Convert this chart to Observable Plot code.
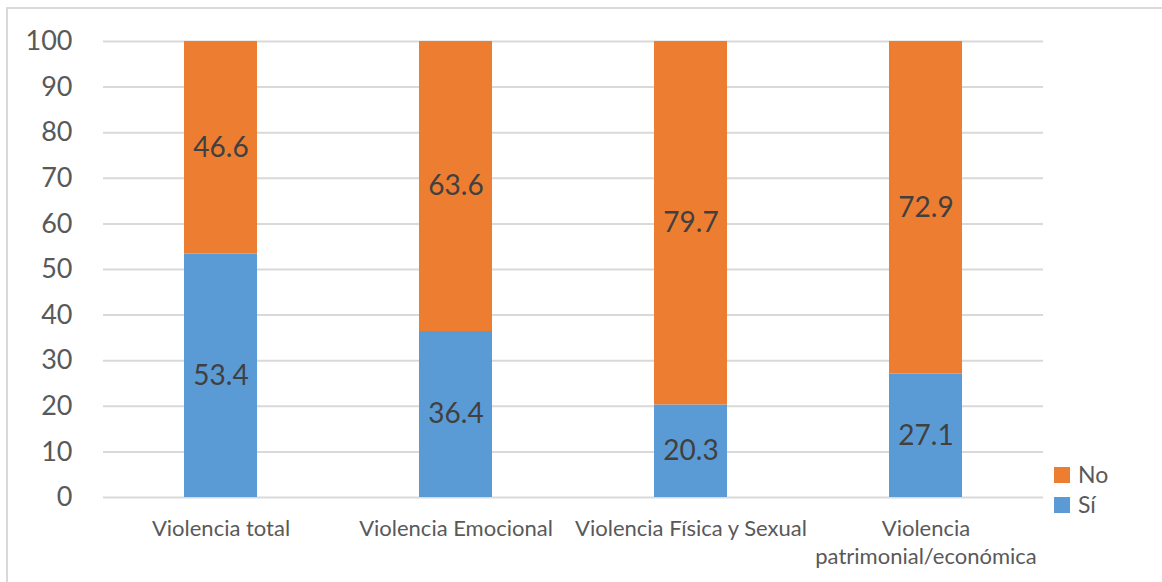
<!DOCTYPE html>
<html>
<head>
<meta charset="utf-8">
<script src="https://cdn.jsdelivr.net/npm/d3@7"></script>
<script src="https://cdn.jsdelivr.net/npm/@observablehq/plot@0.6"></script>
<style>
  html, body { margin: 0; padding: 0; background: #fff; overflow: hidden; }
  body { width: 1162px; height: 582px; position: relative; font-family: Lato, "Open Sans", sans-serif; }
  #frame { position: absolute; left: 6px; top: 7px; width: 1200px; height: 700px;
           border-left: 2px solid #d9d9d9; border-top: 2px solid #d9d9d9; }
  #chart { position: absolute; left: 0; top: 0; }
  .legend { position: absolute; left: 1054px; font-size: 23px; color: #595959; line-height: 1; }
  .legend .sw { display: inline-block; width: 16px; height: 16px; vertical-align: middle; margin-right: 8px; position: relative; top: -2px; }
</style>
</head>
<body>
<div id="frame"></div>
<div id="chart"></div>
<div class="legend" style="top:463px"><span class="sw" style="background:#ED7D31"></span>No</div>
<div class="legend" style="top:493px"><span class="sw" style="background:#5B9BD5"></span>Sí</div>
<script>
const categories = ["Violencia total", "Violencia Emocional", "Violencia Física y Sexual", "Violencia patrimonial/económica"];
const tickLabels = ["Violencia total", "Violencia Emocional", "Violencia Física y Sexual", "Violencia\npatrimonial/económica"];
const series = ["Sí", "No"];
const siValues = [53.4, 36.4, 20.3, 27.1];
const noValues = [46.6, 63.6, 79.7, 72.9];
const yTicks = [0, 10, 20, 30, 40, 50, 60, 70, 80, 90, 100];
const colors = ["#5B9BD5", "#ED7D31"];

const data = [];
categories.forEach((c, i) => {
  data.push({cat: c, series: "Sí", value: siValues[i]});
  data.push({cat: c, series: "No", value: noValues[i]});
});
const labelOf = new Map(categories.map((c, i) => [c, tickLabels[i]]));

const chart = Plot.plot({
  width: 1162,
  height: 582,
  marginLeft: 103,
  marginRight: 119,
  marginTop: 41,
  marginBottom: 85,
  style: {fontFamily: "Lato, 'Open Sans', sans-serif", background: "transparent"},
  x: {domain: categories, paddingInner: 0.69, paddingOuter: 0.345, label: null},
  y: {domain: [0, 100], label: null},
  color: {domain: series, range: colors},
  marks: [
    Plot.gridY(yTicks, {stroke: "#d9d9d9", strokeOpacity: 1, strokeWidth: 2}),
    Plot.axisY(yTicks, {tickSize: 0, tickPadding: 31, fontSize: 27, fill: "#595959", label: null}),
    Plot.axisX({tickSize: 0, tickPadding: 18, fontSize: 22, fill: "#595959", lineHeight: 1.3,
                tickFormat: d => labelOf.get(d), label: null}),
    Plot.barY(data, {x: "cat", y: "value", fill: "series", order: series}),
    Plot.textY(data, Plot.stackY({x: "cat", y: "value", z: "series", order: series,
                text: d => d.value.toFixed(1), fontSize: 28, fill: "#404040"}))
  ]
});
document.getElementById("chart").appendChild(chart);
</script>
</body>
</html>
